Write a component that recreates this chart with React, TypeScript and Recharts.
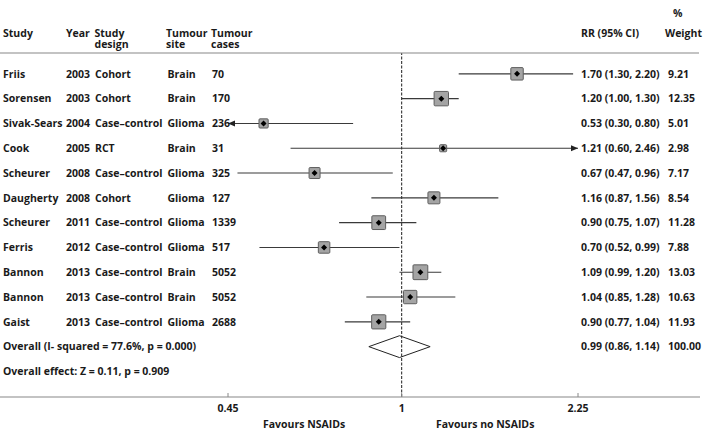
import React from 'react';
import { ScatterChart, Scatter, XAxis, YAxis, ErrorBar, ReferenceLine } from 'recharts';

// ---- data ----
const studies = ['Friis', 'Sorensen', 'Sivak-Sears', 'Cook', 'Scheurer', 'Daugherty', 'Scheurer', 'Ferris', 'Bannon', 'Bannon', 'Gaist'];
const years = [2003, 2003, 2004, 2005, 2008, 2008, 2011, 2012, 2013, 2013, 2013];
const designs = ['Cohort', 'Cohort', 'Case–control', 'RCT', 'Case–control', 'Cohort', 'Case–control', 'Case–control', 'Case–control', 'Case–control', 'Case–control'];
const sites = ['Brain', 'Brain', 'Glioma', 'Brain', 'Glioma', 'Glioma', 'Glioma', 'Glioma', 'Brain', 'Brain', 'Glioma'];
const cases = [70, 170, 236, 31, 325, 127, 1339, 517, 5052, 5052, 2688];
const rr = [1.70, 1.20, 0.53, 1.21, 0.67, 1.16, 0.90, 0.70, 1.09, 1.04, 0.90];
const lo = [1.30, 1.00, 0.30, 0.60, 0.47, 0.87, 0.75, 0.52, 0.99, 0.85, 0.77];
const hi = [2.20, 1.30, 0.80, 2.46, 0.96, 1.56, 1.07, 0.99, 1.20, 1.28, 1.04];
const weights = [9.21, 12.35, 5.01, 2.98, 7.17, 8.54, 11.28, 7.88, 13.03, 10.63, 11.93];

const overallRR = 0.99;
const overallLo = 0.86;
const overallHi = 1.14;
const overallWeight = 100.0;
const overallLabel = 'Overall (I- squared = 77.6%, p = 0.000)';
const effectLabel = 'Overall effect: Z = 0.11, p = 0.909';

const xTicks = [0.45, 1, 2.25];
const leftLabel = 'Favours NSAIDs';
const rightLabel = 'Favours no NSAIDs';

// ---- layout ----
const W = 709;
const H = 431;
const X_MIN = xTicks[0];
const X_MAX = xTicks[xTicks.length - 1];
const PLOT_LEFT = 228;
const PLOT_RIGHT = 578;
const PLOT_TOP = 53;
const PLOT_BOTTOM = 397;
const Y_MIN = -0.84;
const Y_MAX = 13.03;
const DIAMOND_HALF = 0.44;

const rowY = (i: number) => PLOT_TOP + ((i - Y_MIN) / (Y_MAX - Y_MIN)) * (PLOT_BOTTOM - PLOT_TOP);

const FONT = "'Open Sans', sans-serif";
const TXT = '#1a1a1a';

const studyData = rr.map((v, i) => {
  const l = Math.max(lo[i], X_MIN);
  const h = Math.min(hi[i], X_MAX);
  return { x: v, y: i, w: weights[i], err: [v - l, h - v] };
});

const arrowData: { x: number; y: number; dir: number }[] = [];
rr.forEach((_, i) => {
  if (lo[i] < X_MIN) arrowData.push({ x: X_MIN, y: i, dir: -1 });
  if (hi[i] > X_MAX) arrowData.push({ x: X_MAX, y: i, dir: 1 });
});

const OV = studies.length;
const diamondData = [
  { x: overallLo, y: OV },
  { x: overallRR, y: OV - DIAMOND_HALF },
  { x: overallHi, y: OV },
  { x: overallRR, y: OV + DIAMOND_HALF },
  { x: overallLo, y: OV },
];

const Marker = (props: any) => {
  const { cx, cy, payload } = props;
  if (cx == null || cy == null) return <g />;
  const s = 4.1 * Math.sqrt(payload.w);
  const d = 3;
  return (
    <g>
      <rect x={cx - s / 2} y={cy - s / 2} width={s} height={s} fill="#a4a4a4" stroke="#5e5e5e" strokeWidth={1} rx={1} />
      <path d={`M${cx - d},${cy} L${cx},${cy - d} L${cx + d},${cy} L${cx},${cy + d} Z`} fill="#000" />
    </g>
  );
};

const Arrow = (props: any) => {
  const { cx, cy, payload } = props;
  if (cx == null || cy == null) return <g />;
  const dir = payload.dir;
  const len = 7;
  const hw = 3;
  const tip = cx;
  const base = cx - dir * len;
  return <path d={`M${tip},${cy} L${base},${cy - hw} L${base},${cy + hw} Z`} fill="#222" />;
};

const Empty = () => <g />;

const XTick = (props: any) => {
  const { x, y, payload } = props;
  return (
    <g>
      <line x1={x} x2={x} y1={y - 4} y2={y} stroke="#888" strokeWidth={1} />
      <text x={x} y={y + 15.3} textAnchor="middle" fontFamily={FONT} fontWeight={700} fontSize={10.5} fill={TXT}>
        {String(payload.value)}
      </text>
    </g>
  );
};

const T = ({ x, y, children, anchor }: any) => (
  <text x={x} y={y} textAnchor={anchor || 'start'} fontFamily={FONT} fontWeight={700} fontSize={10.5} fill={TXT}>
    {children}
  </text>
);

const T2 = ({ x, y, l1, l2, gap, x1 }: any) => (
  <text x={x} y={y} fontFamily={FONT} fontWeight={700} fontSize={10.5} fill={TXT}>
    <tspan x={x1 != null ? x1 : x} y={y}>{l1}</tspan>
    <tspan x={x} y={y + gap}>{l2}</tspan>
  </text>
);

export default function App() {
  const hdr1 = 36.5;
  const gap = 11.5;
  return (
    <div style={{ position: 'absolute', left: 0, top: 0, width: W, height: H, background: '#fff' }}>
      <ScatterChart
        width={W}
        height={H}
        margin={{ top: PLOT_TOP, right: W - PLOT_RIGHT, bottom: 0, left: PLOT_LEFT }}
      >
        <XAxis
          type="number"
          dataKey="x"
          scale="log"
          domain={[X_MIN, X_MAX]}
          ticks={xTicks}
          allowDataOverflow
          height={H - PLOT_BOTTOM}
          axisLine={false}
          tickLine={false}
          tickSize={0}
          tickMargin={0}
          interval={0}
          tick={(p: any) => <XTick {...p} />}
        />
        <YAxis type="number" dataKey="y" domain={[Y_MIN, Y_MAX]} reversed hide allowDataOverflow />
        <ReferenceLine x={1} stroke="#333" strokeWidth={1.1} strokeDasharray="3 1.5" />
        <Scatter data={studyData} shape={<Marker />} isAnimationActive={false}>
          <ErrorBar dataKey="err" direction="x" width={0} stroke="#3a3a3a" strokeWidth={1.1} isAnimationActive={false} />
        </Scatter>
        <Scatter data={arrowData} shape={<Arrow />} isAnimationActive={false} />
        <Scatter
          data={diamondData}
          shape={<Empty />}
          line={{ stroke: '#222', strokeWidth: 1 }}
          lineType="joint"
          isAnimationActive={false}
        />
      </ScatterChart>
      <svg width={W} height={H} style={{ position: 'absolute', left: 0, top: 0, pointerEvents: 'none' }}>
        {/* header */}
        <T2 x={665} x1={673} y={17} l1="%" l2="Weight" gap={hdr1 - 17} />
        <T x={3} y={hdr1}>Study</T>
        <T x={66} y={hdr1}>Year</T>
        <T2 x={94.5} y={hdr1} l1="Study" l2="design" gap={gap} />
        <T2 x={166} y={hdr1} l1="Tumour" l2="site" gap={gap} />
        <T2 x={211} y={hdr1} l1="Tumour" l2="cases" gap={gap} />
        <T x={581} y={hdr1}>RR (95% CI)</T>
        <line x1={0} x2={699} y1={PLOT_TOP} y2={PLOT_TOP} stroke="#888" strokeWidth={1.2} />
        {/* rows */}
        {studies.map((s, i) => {
          const y = rowY(i) + 3.7;
          return (
            <g key={i}>
              <T x={3} y={y}>{s}</T>
              <T x={66} y={y}>{String(years[i])}</T>
              <T x={95} y={y}>{designs[i]}</T>
              <T x={167.5} y={y}>{sites[i]}</T>
              <T x={212} y={y}>{String(cases[i])}</T>
              <T x={581} y={y}>{`${rr[i].toFixed(2)} (${lo[i].toFixed(2)}, ${hi[i].toFixed(2)})`}</T>
              <T x={668} y={y}>{weights[i].toFixed(2)}</T>
            </g>
          );
        })}
        <T x={3} y={rowY(OV) + 3.7}>{overallLabel}</T>
        <T x={581} y={rowY(OV) + 3.7}>{`${overallRR.toFixed(2)} (${overallLo.toFixed(2)}, ${overallHi.toFixed(2)})`}</T>
        <T x={668} y={rowY(OV) + 3.7}>{overallWeight.toFixed(2)}</T>
        <T x={3} y={rowY(OV + 1) + 3.7}>{effectLabel}</T>
        {/* bottom axis line */}
        <line x1={0} x2={700} y1={PLOT_BOTTOM} y2={PLOT_BOTTOM} stroke="#888" strokeWidth={1.2} />
        <T x={263} y={428}>{leftLabel}</T>
        <T x={436} y={428}>{rightLabel}</T>
      </svg>
    </div>
  );
}
